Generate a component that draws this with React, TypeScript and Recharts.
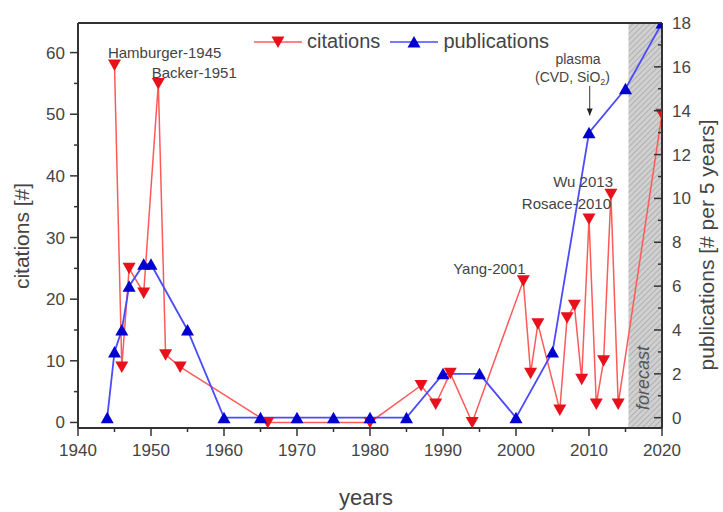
import { LineChart, Line, XAxis, YAxis, ReferenceArea, ReferenceDot, ReferenceLine, Legend } from "recharts";

// red series: citations per year (left axis)
const citationYears = [1945, 1946, 1947, 1949, 1951, 1952, 1954, 1966, 1980, 1987, 1989, 1991, 1994, 2001, 2002, 2003, 2006, 2007, 2008, 2009, 2010, 2011, 2012, 2013, 2014, 2020];
const citationCounts = [58, 9, 25, 21, 55, 11, 9, 0, 0, 6, 3, 8, 0, 23, 8, 16, 2, 17, 19, 7, 33, 3, 10, 37, 3, 50];

// blue series: publications per 5 years (right axis)
const publicationYears = [1944, 1945, 1946, 1947, 1949, 1950, 1955, 1960, 1965, 1970, 1975, 1980, 1985, 1990, 1995, 2000, 2005, 2010, 2015, 2020];
const publicationCounts = [0, 3, 4, 6, 7, 7, 4, 0, 0, 0, 0, 0, 0, 2, 2, 0, 3, 13, 15, 18];

const yearTicks = [1940, 1945, 1950, 1955, 1960, 1965, 1970, 1975, 1980, 1985, 1990, 1995, 2000, 2005, 2010, 2015, 2020];
const citationTicks = [0, 5, 10, 15, 20, 25, 30, 35, 40, 45, 50, 55, 60];
const publicationTicks = [0, 1, 2, 3, 4, 5, 6, 7, 8, 9, 10, 11, 12, 13, 14, 15, 16, 17, 18];

const citations = citationYears.map((year, i) => ({ year, value: citationCounts[i] }));
const publications = publicationYears.map((year, i) => ({ year, value: publicationCounts[i] }));

const FONT = '"Liberation Sans", Arial, sans-serif';
const AXIS = "#333";
const RED_LINE = "#ff5a5a";
const RED_MARK = "#e8101a";
const BLUE_LINE = "#4b4bff";
const BLUE_MARK = "#0000d0";

const triangle = (cx: number, cy: number, down: boolean) =>
  down
    ? `M${cx - 6.5},${cy - 5.5}L${cx + 6.5},${cy - 5.5}L${cx},${cy + 6}Z`
    : `M${cx - 6.5},${cy + 5.5}L${cx + 6.5},${cy + 5.5}L${cx},${cy - 6}Z`;

const makeDot = (color: string, down: boolean) => (props: any) => {
  const { cx, cy, index } = props;
  if (cx == null || cy == null) return <g key={`e${index}`} />;
  return <path key={`${down ? "d" : "u"}${index}`} d={triangle(cx, cy, down)} fill={color} />;
};

const XTick = ({ x, y, payload }: any) => {
  const major = payload.value % 10 === 0;
  return (
    <g>
      <line x1={x} x2={x} y1={y} y2={y + (major ? 8 : 4)} stroke={AXIS} strokeWidth={1.5} />
      {major && (
        <text x={x} y={y + 28} textAnchor="middle" fontSize={17} fill="#444" fontFamily={FONT}>
          {payload.value}
        </text>
      )}
    </g>
  );
};

const LeftTick = ({ x, y, payload }: any) => {
  const major = payload.value % 10 === 0;
  return (
    <g>
      <line x1={x - (major ? 8 : 4)} x2={x} y1={y} y2={y} stroke={AXIS} strokeWidth={1.5} />
      {major && (
        <text x={x - 13} y={y + 6} textAnchor="end" fontSize={17} fill="#444" fontFamily={FONT}>
          {payload.value}
        </text>
      )}
    </g>
  );
};

const RightTick = ({ x, y, payload }: any) => {
  const major = payload.value % 2 === 0;
  return (
    <g>
      <line x1={x - (major ? 8 : 4)} x2={x} y1={y} y2={y} stroke={AXIS} strokeWidth={1.5} />
      {major && (
        <text x={x + 10} y={y + 6} textAnchor="start" fontSize={17} fill="#444" fontFamily={FONT}>
          {payload.value}
        </text>
      )}
    </g>
  );
};

const note = (text: any, anchor: "start" | "middle" = "start", size = 15) => (props: any) => (
  <text x={props.cx} y={props.cy} dy="0.35em" textAnchor={anchor} fontSize={size} fill="#444" fontFamily={FONT}>
    {text}
  </text>
);

const LegendContent = () => (
  <div style={{ display: "flex", alignItems: "center", fontFamily: FONT, fontSize: 20, color: "#444" }}>
    <svg width={52} height={20}>
      <line x1={2} x2={50} y1={10} y2={10} stroke={RED_LINE} strokeWidth={1.5} />
      <path d={triangle(26, 10, true)} fill={RED_MARK} />
    </svg>
    <span style={{ marginLeft: 3, marginRight: 8 }}>citations</span>
    <svg width={52} height={20}>
      <line x1={2} x2={50} y1={10} y2={10} stroke={BLUE_LINE} strokeWidth={1.5} />
      <path d={triangle(26, 10, false)} fill={BLUE_MARK} />
    </svg>
    <span style={{ marginLeft: 3 }}>publications</span>
  </div>
);

export default function App() {
  return (
    <div style={{ position: "absolute", left: 0, top: 0, width: 723, height: 512, background: "#fff" }}>
      <LineChart width={723} height={512} margin={{ top: 23, right: 11, bottom: 21, left: 18 }}>
        <defs>
          <pattern id="hatch" width="4" height="4" patternUnits="userSpaceOnUse" patternTransform="rotate(45)">
            <rect width="4" height="4" fill="#d0d0d0" />
            <line x1="0" y1="0" x2="0" y2="4" stroke="#a0a0a0" strokeWidth="1.3" />
          </pattern>
        </defs>
        <XAxis
          dataKey="year"
          type="number"
          domain={[1940, 2020]}
          ticks={yearTicks}
          interval={0}
          allowDataOverflow
          height={40}
          tickSize={0}
          tickMargin={0}
          tickLine={false}
          axisLine={{ stroke: AXIS, strokeWidth: 2 }}
          tick={<XTick />}
        />
        <YAxis
          yAxisId="left"
          type="number"
          domain={[-0.9, 64.8]}
          ticks={citationTicks}
          interval={0}
          allowDataOverflow
          width={60}
          tickSize={0}
          tickMargin={0}
          tickLine={false}
          axisLine={{ stroke: AXIS, strokeWidth: 2 }}
          tick={<LeftTick />}
        />
        <YAxis
          yAxisId="right"
          orientation="right"
          type="number"
          domain={[-0.47, 18]}
          ticks={publicationTicks}
          interval={0}
          allowDataOverflow
          width={50}
          tickSize={0}
          tickMargin={0}
          tickLine={false}
          axisLine={{ stroke: AXIS, strokeWidth: 2 }}
          tick={<RightTick />}
        />
        <ReferenceArea yAxisId="left" x1={2015.4} x2={2020} y1={-0.9} y2={64.8} fill="url(#hatch)" fillOpacity={1} stroke="none" />
        <ReferenceLine yAxisId="left" y={64.8} stroke={AXIS} strokeWidth={2} />
        <Line
          yAxisId="left"
          data={citations}
          dataKey="value"
          name="citations"
          stroke={RED_LINE}
          strokeWidth={1.5}
          dot={makeDot(RED_MARK, true)}
          activeDot={false}
          isAnimationActive={false}
        />
        <Line
          yAxisId="right"
          data={publications}
          dataKey="value"
          name="publications"
          stroke={BLUE_LINE}
          strokeWidth={1.8}
          dot={makeDot(BLUE_MARK, false)}
          activeDot={false}
          isAnimationActive={false}
        />
        <ReferenceDot yAxisId="left" x={1944.1} y={59.9} r={0} ifOverflow="visible" shape={note("Hamburger-1945")} />
        <ReferenceDot yAxisId="left" x={1950.1} y={56.8} r={0} ifOverflow="visible" shape={note("Backer-1951")} />
        <ReferenceDot yAxisId="left" x={1991.4} y={24.9} r={0} ifOverflow="visible" shape={note("Yang-2001")} />
        <ReferenceDot yAxisId="left" x={2000.8} y={35.5} r={0} ifOverflow="visible" shape={note("Rosace-2010")} />
        <ReferenceDot yAxisId="left" x={2005.1} y={39} r={0} ifOverflow="visible" shape={note("Wu 2013")} />
        <ReferenceDot yAxisId="left" x={2008.5} y={58.9} r={0} ifOverflow="visible" shape={note("plasma", "middle", 14)} />
        <ReferenceDot
          yAxisId="left"
          x={2002.6}
          y={56}
          r={0}
          ifOverflow="visible"
          shape={note(
            <>
              (CVD, SiO<tspan fontSize={9} dy={3}>2</tspan>
              <tspan dy={-3}>)</tspan>
            </>,
            "start",
            14
          )}
        />
        <ReferenceLine
          yAxisId="left"
          segment={[
            { x: 2010.1, y: 54.6 },
            { x: 2010.1, y: 49.8 },
          ]}
          stroke="#333"
          strokeWidth={1}
          ifOverflow="visible"
        />
        <ReferenceDot
          yAxisId="left"
          x={2010.1}
          y={49.8}
          r={0}
          ifOverflow="visible"
          shape={(p: any) => <path d={`M${p.cx - 3},${p.cy - 7}L${p.cx + 3},${p.cy - 7}L${p.cx},${p.cy}Z`} fill="#222" />}
        />
        <ReferenceDot
          yAxisId="left"
          x={2017.3}
          y={7.2}
          r={0}
          ifOverflow="visible"
          shape={(p: any) => (
            <text
              x={p.cx}
              y={p.cy}
              dy="0.35em"
              textAnchor="middle"
              fontSize={18}
              fontStyle="italic"
              fill="#555"
              fontFamily={FONT}
              transform={`rotate(-90 ${p.cx} ${p.cy})`}
            >
              forecast
            </text>
          )}
        />
        <Legend content={<LegendContent />} wrapperStyle={{ position: "absolute", top: 30, left: 252, width: "auto" }} />
      </LineChart>
      <div
        style={{
          position: "absolute",
          left: 22,
          top: 236,
          transform: "translate(-50%, -50%) rotate(-90deg)",
          whiteSpace: "nowrap",
          fontFamily: FONT,
          fontSize: 21,
          color: "#444",
        }}
      >
        citations [#]
      </div>
      <div
        style={{
          position: "absolute",
          left: 707,
          top: 245,
          transform: "translate(-50%, -50%) rotate(-90deg)",
          whiteSpace: "nowrap",
          fontFamily: FONT,
          fontSize: 21,
          color: "#444",
        }}
      >
        publications [# per 5 years]
      </div>
      <div
        style={{
          position: "absolute",
          left: 366,
          top: 498,
          transform: "translate(-50%, -50%)",
          whiteSpace: "nowrap",
          fontFamily: FONT,
          fontSize: 22,
          color: "#444",
        }}
      >
        years
      </div>
    </div>
  );
}
